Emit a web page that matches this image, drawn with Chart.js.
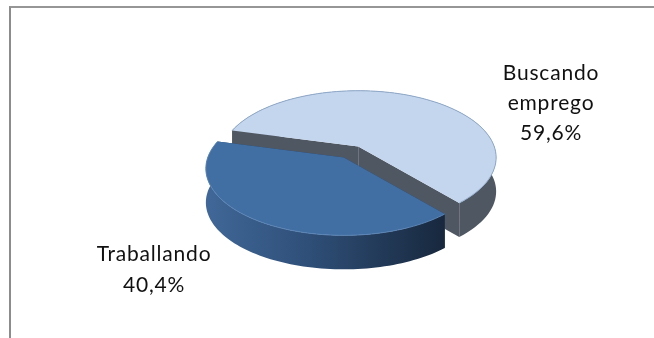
<!DOCTYPE html>
<html>
<head>
<meta charset="utf-8">
<style>
    html, body { margin: 0; padding: 0; background: #fff; overflow: hidden; }
    #marco { position: absolute; left: 9px; top: 6px; right: 0; bottom: 0; border-top: 2px solid #969696; border-left: 2px solid #8c8c8c; }
    canvas { position: absolute; left: 0; top: 0; }
</style>
</head>
<body>
<div id="marco"></div>
<canvas id="grafico" width="654" height="338"></canvas>
<script src="https://cdn.jsdelivr.net/npm/chart.js@4/dist/chart.umd.min.js"></script>
<script>
//Datos
const categorias = ['Traballando', 'Buscando emprego'];
const valores = [40.4, 59.6];

//Colores
const coloresTapa = ['#416fa4', '#c4d6ee'];
const coloresBorde = ['#5b84b4', '#8fa9c9'];
const coloresCorte = ['#27415f', '#4f5763'];
const gradienteLateral = [
    [['#41699a', 0], ['#2f4f78', 0.45], ['#18293f', 1]],
    [['#4f5763', 0], ['#4f5763', 1]]
];

//Perspectiva del disco
const centro = { x: 351, y: 152 };
const radioX = 136;
const radioY = 65;
const fuga = 0.165;
const grosor = 34;
const separacion = 0.1;

const etiquetas = [
    { x: 154, y: 261, linea: 31 },
    { x: 551, y: 80, linea: 30 }
];

function punto(c, angulo) {
    const s = 1 / (1 - fuga * Math.sin(angulo));
    return [c.x + radioX * Math.cos(angulo) * s, c.y + radioY * Math.sin(angulo) * s];
}

function arco(ctx, c, ini, fin, dy) {
    const pasos = 90;
    for (let i = 0; i <= pasos; i++) {
        const p = punto(c, ini + (fin - ini) * i / pasos);
        ctx.lineTo(p[0], p[1] + dy);
    }
}

function gradiente(ctx, stops) {
    const g = ctx.createLinearGradient(centro.x - radioX - 15, 0, centro.x + 90, 0);
    stops.forEach(s => g.addColorStop(s[1], s[0]));
    return g;
}

const pie3d = {
    id: 'pie3d',
    beforeDatasetsDraw(chart) {
        const ctx = chart.ctx;
        const arcos = chart.getDatasetMeta(0).data;

        const trozos = arcos.map((a, i) => {
            const medio = (a.startAngle + a.endAngle) / 2;
            return {
                i: i,
                ini: a.startAngle,
                fin: a.endAngle,
                c: {
                    x: centro.x + separacion * radioX * Math.cos(medio),
                    y: centro.y + separacion * radioY * Math.sin(medio)
                }
            };
        });
        trozos.sort((a, b) => a.c.y - b.c.y); //primero el de atras

        ctx.save();
        trozos.forEach(t => {
            //caras del corte
            [t.ini, t.fin].forEach(ang => {
                const p = punto(t.c, ang);
                ctx.beginPath();
                ctx.moveTo(t.c.x, t.c.y);
                ctx.lineTo(p[0], p[1]);
                ctx.lineTo(p[0], p[1] + grosor);
                ctx.lineTo(t.c.x, t.c.y + grosor);
                ctx.closePath();
                ctx.fillStyle = coloresCorte[t.i];
                ctx.fill();
            });

            //pared exterior
            ctx.beginPath();
            arco(ctx, t.c, t.ini, t.fin, 0);
            arco(ctx, t.c, t.fin, t.ini, grosor);
            ctx.closePath();
            ctx.fillStyle = gradiente(ctx, gradienteLateral[t.i]);
            ctx.fill();

            //tapa
            ctx.beginPath();
            ctx.moveTo(t.c.x, t.c.y);
            arco(ctx, t.c, t.ini, t.fin, 0);
            ctx.closePath();
            ctx.fillStyle = coloresTapa[t.i];
            ctx.fill();

            ctx.beginPath();
            arco(ctx, t.c, t.ini, t.fin, 0);
            ctx.strokeStyle = coloresBorde[t.i];
            ctx.lineWidth = 1;
            ctx.stroke();
        });
        ctx.restore();
        return false; //el pie plano no se pinta
    },
    afterDraw(chart) {
        const ctx = chart.ctx;
        ctx.save();
        ctx.font = '21px Lato';
        ctx.letterSpacing = '0.8px';
        ctx.fillStyle = '#111';
        ctx.textAlign = 'center';
        ctx.textBaseline = 'alphabetic';
        categorias.forEach((cat, i) => {
            const lineas = cat.split(' ');
            lineas.push(valores[i].toFixed(1).replace('.', ',') + '%');
            lineas.forEach((txt, n) => {
                ctx.fillText(txt, etiquetas[i].x, etiquetas[i].y + n * etiquetas[i].linea);
            });
        });
        ctx.restore();
    }
};

new Chart(document.querySelector('#grafico'), {
    type: 'pie',
    data: {
        labels: categorias,
        datasets: [{
            data: valores,
            backgroundColor: coloresTapa,
            borderWidth: 0
        }]
    },
    options: {
        responsive: false,
        animation: false,
        rotation: 139.5,
        plugins: {
            legend: { display: false },
            tooltip: { enabled: false }
        }
    },
    plugins: [pie3d]
});
</script>
</body>
</html>
